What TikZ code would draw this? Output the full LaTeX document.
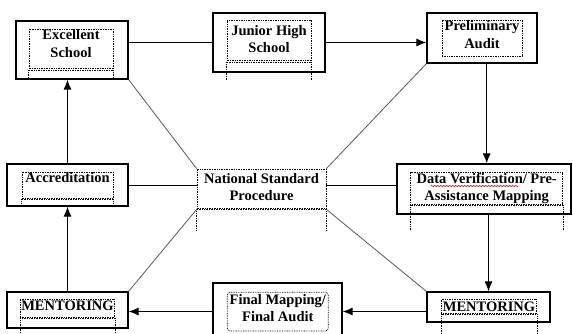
\documentclass[tikz,border=0pt]{standalone}
\usepackage{fontspec}
\setmainfont{Liberation Serif}
\usetikzlibrary{arrows.meta,calc,decorations.pathmorphing}

\begin{document}
\begin{tikzpicture}[x=1pt,y=-1pt,
  box/.style={draw,line width=1.2pt,inner sep=0pt},
  txtframe/.style={draw,dash pattern=on 0.8pt off 0.9pt,line width=0.8pt,inner xsep=1pt,inner ysep=0pt,
    align=center,anchor=base,font=\fontsize{14.5}{17.5}\selectfont\bfseries},
  leg/.style={dash pattern=on 0.8pt off 0.9pt,line width=0.8pt},
  link/.style={line width=1pt},
  arr/.style={line width=1pt,-{Latex[length=10pt,width=8pt]}},
  spoke/.style={draw=black!65,line width=0.8pt}]
\useasboundingbox (0,0) rectangle (573,334);

% outer boxes
\node[box,minimum width=112pt,minimum height=58pt] (es) at (72,50) {};
\node[box,minimum width=112pt,minimum height=59pt] (jhs) at (269,42.5) {};
\node[box,minimum width=110pt,minimum height=50pt] (pa) at (482,38) {};
\node[box,minimum width=121pt,minimum height=42pt] (acc) at (67.5,185) {};
\node[box,minimum width=174pt,minimum height=50pt] (dv) at (484,189) {};
\node[box,minimum width=121pt,minimum height=36pt] (ml) at (67.5,310) {};
\node[box,minimum width=129pt,minimum height=57pt] (fm) at (277.5,311.5) {};
\node[box,minimum width=123pt,minimum height=30pt] (mr) at (488.5,307) {};

% text frames, placed at the baseline of their last line
\node[txtframe,minimum width=84pt,text height=28.5pt,text depth=12.5pt] (esT) at (71,57.5) {Excellent\\School};
\node[txtframe,minimum width=84pt,text height=33pt,text depth=9pt] (jhsT) at (269,53) {Junior High\\School};
\node[txtframe,minimum width=80pt,text height=28.5pt,text depth=7.5pt] (paT) at (482,48.5) {Preliminary\\Audit};
\node[txtframe,minimum width=91pt,text height=10.5pt,text depth=16.5pt] (accT) at (67.5,182.5) {Accreditation};
\node[txtframe,minimum width=129pt,text height=31.5pt,text depth=8.5pt] (nsT) at (261.5,200.5) {National Standard\\Procedure};
\node[txtframe,minimum width=152pt,text height=28.5pt,text depth=4.5pt] (dvT) at (486.7,200.5) {Data Verification/ Pre-\\Assistance Mapping};
\node[txtframe,minimum width=92pt,text height=11pt,text depth=8pt] (mlT) at (67.5,310) {MENTORING};
\node[txtframe,rounded corners=3pt,minimum width=101pt,text height=29.2pt,text depth=9.5pt] (fmT) at (277.8,321.5) {Final Mapping/\\Final Audit};
\node[txtframe,minimum width=95pt,text height=12pt,text depth=3pt] (mrT) at (489,311) {MENTORING};

\foreach \f/\l in {esT/10,jhsT/18,accT/6,nsT/21,dvT/25,mlT/16,mrT/21}{
  \draw[leg] (\f.south west) -- ++(0,\l);
  \draw[leg] (\f.south east) -- ++(0,\l);
  \draw[leg] ([yshift=1.5pt]\f.south west) -- ([yshift=1.5pt]\f.south east);
}
\draw[red,line width=0.5pt,decorate,decoration={snake,amplitude=0.8pt,segment length=3pt}]
  ($(dvT.base)+(-56,-14.5)$) -- ($(dvT.base)+(32,-14.5)$);

% cycle
\draw[link] (jhs.west -| es.east) -- (jhs.west);
\draw[arr] (jhs.east) -- (jhs.east -| pa.west);
\draw[arr] (pa.south -| dvT.north) -- (dvT.north |- dv.north);
\draw[arr] (dv.south -| mr.north) -- (mr.north);
\draw[arr] (mr.west |- fm.east) -- (fm.east);
\draw[arr] (fm.west) -- (fm.west -| ml.east);
\draw[arr] (ml.north) -- (acc.south);
\draw[arr] (acc.north) -- (acc.north |- es.south);

% centre
\draw[link] (acc.east) -- (acc.east -| nsT.west);
\draw[link] (acc.east -| nsT.east) -- (acc.east -| dv.west);
\draw[spoke] (es.south east) -- (nsT.north west);
\draw[spoke] (pa.south west) -- (nsT.north east);
\draw[spoke] (ml.north east) -- (nsT.south west);
\draw[spoke] (mr.north west) -- (nsT.south east);
\end{tikzpicture}
\end{document}
